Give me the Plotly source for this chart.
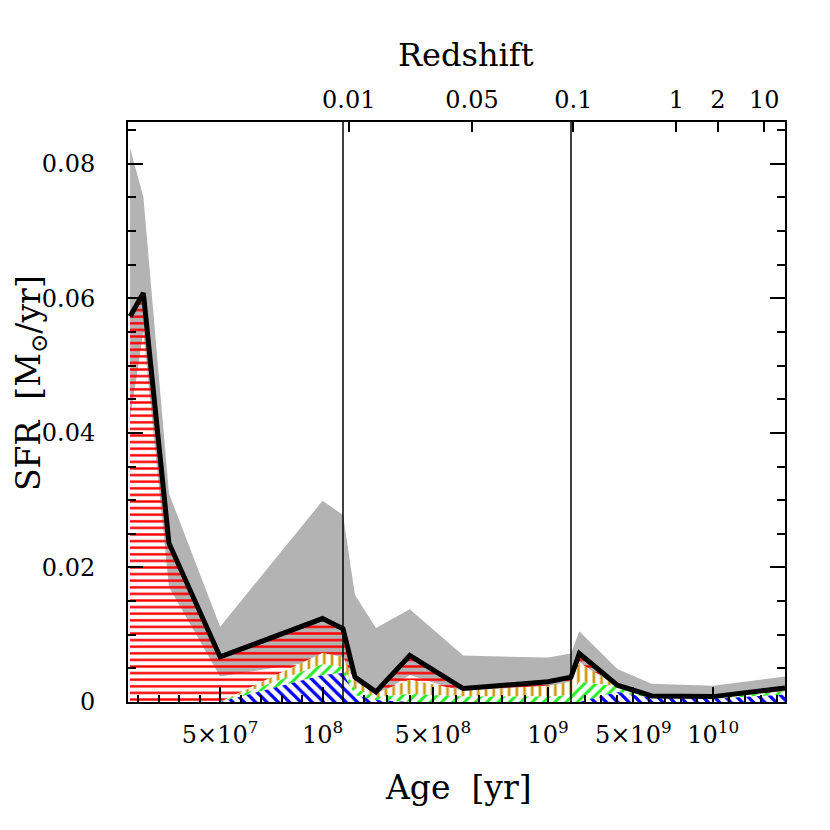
import numpy as np
import plotly.graph_objects as go

# lookback ages (yr) of the model points
ages = [6e6, 1.25e7, 2.5e7, 5e7, 1e8, 1.1e8, 1.62e8, 2.53e8, 4e8, 6.32e8,
        1e9, 1.1e9, 1.62e9, 4e9, 6.15e9, 1e10, 1.45e10]
# best SFR (Msun/yr) and the range around it
sfr = [0.0573, 0.0608, 0.0236, 0.0067, 0.0124, 0.0109, 0.0037, 0.0015, 0.0069, 0.0020,
       0.0030, 0.0037, 0.0072, 0.0025, 0.0009, 0.0008, 0.0021]
sfr_hi = [0.0823, 0.0751, 0.0310, 0.0112, 0.0299, 0.0278, 0.0159, 0.0110, 0.0138, 0.0069,
          0.0066, 0.0072, 0.0105, 0.0049, 0.0027, 0.0024, 0.0038]
sfr_lo = [0.0420, 0.0550, 0.0171, 0.0038, 0.0062, 0.0058, 0.0025, 0.0008, 0.0040, 0.0015,
          0.0022, 0.0028, 0.0060, 0.0018, 0.0004, 0.0004, 0.0015]
# stacked contributions (bottom to top)
comp_blue = [0, 0, 0, 0, 0.0040, 0.0043, 0.0010, 0.0003, 0, 0,
             0, 0, 0, 0.0015, 0.0006, 0.0005, 0.0011]
comp_green = [0, 0, 0, 0, 0.0016, 0.0009, 0.0010, 0.0004, 0.0012, 0.0008,
              0.0008, 0.0010, 0.0030, 0.0008, 0.0002, 0.0002, 0.0005]
comp_orange = [0, 0, 0, 0, 0.0017, 0.0015, 0.0010, 0.0006, 0.0021, 0.0009,
               0.0016, 0.0020, 0.0028, 0.0001, 0, 0, 0]

age_ticks = [5e7, 1e8, 5e8, 1e9, 5e9, 1e10]
age_labels = ["5×10<sup>7</sup>", "10<sup>8</sup>", "5×10<sup>8</sup>",
              "10<sup>9</sup>", "5×10<sup>9</sup>", "10<sup>10</sup>"]
z_labels = ["0.01", "0.05", "0.1", "1", "2", "10"]
z_ages = [1.35e8, 6.7e8, 1.25e9, 7.7e9, 1.03e10, 1.32e10]
y_ticks = [0, 0.02, 0.04, 0.06, 0.08]
y_labels = ["0", "0.02", "0.04", "0.06", "0.08"]

# broken age axis: three linear pieces, widths in px
AGE_EDGES = [5e6, 1.1e8, 1.1e9, 1.45e10]
PIECE_W = [0, 215, 443, 657]


def ax(a):
    return np.interp(np.asarray(a, float), AGE_EDGES, PIECE_W)


minor_ages = ([k * 1e7 for k in range(1, 11)] + [k * 1e8 for k in range(2, 11)]
              + [k * 1e9 for k in range(2, 15)])

u = ax(ages)
blue_top = np.array(comp_blue)
green_top = blue_top + np.array(comp_green)
orange_top = green_top + np.array(comp_orange)


def band(top, bot):
    return (np.concatenate([u, u[::-1]]),
            np.concatenate([np.asarray(top), np.asarray(bot)[::-1]]))


fig = go.Figure()
FONT = "DejaVu Serif"

bx, by = band(sfr_hi, sfr_lo)
fig.add_trace(go.Scatter(x=bx, y=by, fill="toself", mode="lines", line=dict(width=0),
                         fillcolor="#b3b3b3", hoverinfo="skip"))

layers = [
    (sfr, orange_top, "-", "#ff0000", "rgba(0,0,0,0)", 6.6, 0.36),
    (orange_top, green_top, "|", "#cc9910", "white", 7.7, 0.36),
    (green_top, blue_top, "/", "#22ee22", "white", 8, 0.38),
    (blue_top, np.zeros(len(u)), "\\", "#0000ff", "white", 8, 0.4),
]
for top, bot, shape, fg, bg, size, sol in layers:
    bx, by = band(top, bot)
    fig.add_trace(go.Scatter(
        x=bx, y=by, fill="toself", mode="lines", line=dict(width=0),
        fillcolor="rgba(0,0,0,0)", hoverinfo="skip",
        fillpattern=dict(shape=shape, fgcolor=fg, bgcolor=bg, size=size,
                         solidity=sol, fillmode="replace")))

fig.add_trace(go.Scatter(x=u, y=sfr, mode="lines", line=dict(color="black", width=5)))
# top (redshift) axis carrier
fig.add_trace(go.Scatter(x=[], y=[], xaxis="x2", showlegend=False))

for edge in AGE_EDGES[1:3]:
    fig.add_shape(type="line", xref="x", yref="paper", x0=ax(edge), x1=ax(edge),
                  y0=0, y1=1, line=dict(color="black", width=1.5), layer="above")

tickfont = dict(family=FONT, size=24, color="black")
fig.update_layout(
    width=822, height=822, showlegend=False,
    paper_bgcolor="white", plot_bgcolor="white",
    margin=dict(l=120, r=45, t=114, b=128),
    xaxis=dict(range=[0, 657], tickmode="array", tickvals=ax(age_ticks), ticktext=age_labels,
               ticks="inside", ticklen=15, tickwidth=2, tickcolor="black",
               showline=True, linewidth=2, linecolor="black", mirror=False,
               showgrid=False, zeroline=False, tickfont=tickfont, ticklabelstandoff=10,
               minor=dict(tickmode="array", tickvals=ax(minor_ages), ticks="inside",
                          ticklen=7, tickwidth=2, tickcolor="black", showgrid=False)),
    xaxis2=dict(range=[0, 657], overlaying="x", side="top", tickmode="array",
                tickvals=ax(z_ages), ticktext=z_labels, ticks="inside", ticklen=10,
                tickwidth=2, tickcolor="black", showline=True, linewidth=2,
                linecolor="black", showgrid=False, zeroline=False, tickfont=tickfont,
                ticklabelstandoff=2),
    yaxis=dict(range=[0, 0.0862], tickmode="array", tickvals=y_ticks, ticktext=y_labels,
               ticks="inside", ticklen=15, tickwidth=2, tickcolor="black",
               showline=True, linewidth=2, linecolor="black", mirror="ticks",
               showgrid=False, zeroline=False, tickfont=tickfont, ticklabelstandoff=26,
               minor=dict(dtick=0.005, ticks="inside", ticklen=8, tickwidth=2,
                          tickcolor="black", showgrid=False)),
    annotations=[
        dict(text="Redshift", x=(466 - 128) / 657, y=(702 - 55) / 580, xref="paper",
             yref="paper", xanchor="center", yanchor="middle", showarrow=False,
             font=dict(family=FONT, size=32, color="black")),
        dict(text="Age\u00a0\u00a0[yr]", x=(458 - 128) / 657, y=(702 - 787) / 580,
             xref="paper", yref="paper", xanchor="center", yanchor="middle",
             showarrow=False, font=dict(family=FONT, size=33, color="black")),
        dict(text="SFR\u00a0\u00a0[M<sub>⊙</sub>/yr]", x=(30 - 128) / 657, y=(702 - 383) / 580,
             xref="paper", yref="paper", xanchor="center", yanchor="middle",
             showarrow=False, textangle=-90,
             font=dict(family=FONT, size=33, color="black")),
    ],
)

fig.write_html("out.html")
